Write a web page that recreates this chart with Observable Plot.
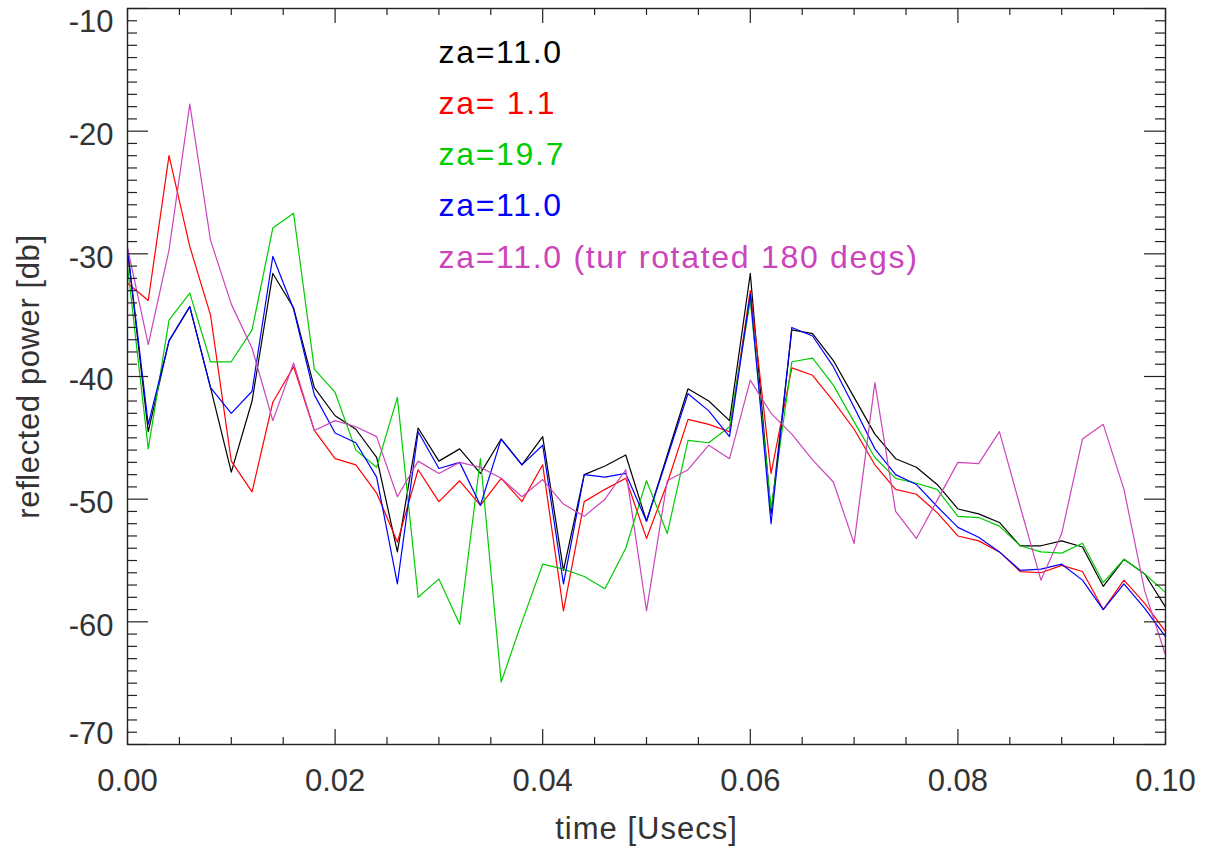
<!DOCTYPE html>
<html>
<head>
<meta charset="utf-8">
<script src="https://cdn.jsdelivr.net/npm/d3@7"></script>
<script src="https://cdn.jsdelivr.net/npm/@observablehq/plot@0.6"></script>
<style>
  html, body { margin: 0; padding: 0; background: #fff; }
  #chart svg { display: block; }
</style>
</head>
<body>
<div id="chart"></div>
<script>
// time axis (Usecs), one sample every 0.002
const time = [0.000,0.002,0.004,0.006,0.008,0.010,0.012,0.014,0.016,0.018,
  0.020,0.022,0.024,0.026,0.028,0.030,0.032,0.034,0.036,0.038,
  0.040,0.042,0.044,0.046,0.048,0.050,0.052,0.054,0.056,0.058,
  0.060,0.062,0.064,0.066,0.068,0.070,0.072,0.074,0.076,0.078,
  0.080,0.082,0.084,0.086,0.088,0.090,0.092,0.094,0.096,0.098,0.100];

const za110 = [-29.7,-44.5,-37.1,-34.3,-40.9,-47.8,-42.0,-31.6,-34.4,-40.9,
  -43.2,-44.3,-46.6,-54.3,-44.2,-46.9,-45.9,-47.9,-45.1,-47.2,
  -44.9,-55.8,-48.0,-47.3,-46.4,-51.8,-46.4,-41.0,-42.0,-43.6,
  -31.6,-51.2,-36.2,-36.5,-38.7,-41.7,-44.7,-46.7,-47.4,-48.8,
  -50.8,-51.2,-51.9,-53.8,-53.8,-53.4,-53.9,-57.1,-54.9,-56.1,-58.8];

const za011 = [-32.4,-33.8,-22.0,-29.4,-35.0,-46.9,-49.4,-42.1,-39.2,-44.4,
  -46.7,-47.2,-49.5,-53.5,-47.6,-50.2,-48.5,-50.5,-48.3,-50.2,
  -47.2,-59.1,-50.2,-49.2,-48.3,-53.2,-48.7,-43.5,-43.9,-44.5,
  -33.0,-47.9,-39.3,-39.9,-42.0,-44.3,-47.2,-49.2,-49.6,-51.1,
  -53.0,-53.4,-54.3,-55.9,-56.0,-55.4,-55.9,-59.0,-56.6,-58.5,-60.8];

const za197 = [-31.0,-45.9,-35.4,-33.2,-38.8,-38.8,-36.2,-27.9,-26.7,-39.4,
  -41.3,-46.0,-47.4,-41.7,-58.0,-56.5,-60.2,-46.7,-64.9,-60.0,
  -55.3,-55.7,-56.3,-57.3,-54.0,-48.5,-52.8,-45.2,-45.4,-44.1,
  -33.8,-50.8,-38.8,-38.5,-40.7,-43.7,-46.6,-48.3,-48.7,-49.2,
  -51.4,-51.5,-52.2,-53.8,-54.3,-54.4,-53.6,-56.8,-54.9,-56.1,-57.6];

const za110b = [-29.6,-43.9,-37.1,-34.3,-40.9,-43.0,-41.2,-30.2,-34.5,-41.5,
  -44.6,-45.4,-48.2,-56.9,-44.5,-47.5,-47.0,-50.5,-45.1,-47.2,
  -45.6,-56.9,-48.0,-48.2,-47.9,-51.8,-46.6,-41.4,-42.8,-44.9,
  -33.3,-52.0,-36.0,-36.7,-39.2,-42.5,-45.9,-48.0,-48.8,-50.6,
  -52.3,-53.1,-54.3,-55.8,-55.7,-55.3,-56.6,-59.0,-56.9,-58.9,-61.2];

const za110rot = [-29.5,-37.4,-29.7,-17.8,-28.9,-34.1,-37.7,-43.6,-38.9,-44.4,
  -43.6,-44.1,-44.9,-49.8,-46.9,-47.9,-47.0,-47.4,-48.3,-49.8,
  -48.4,-50.4,-51.4,-50.0,-47.6,-59.1,-48.5,-47.6,-45.6,-46.7,
  -40.3,-43.0,-44.7,-46.8,-48.6,-53.6,-40.5,-51.0,-53.2,-50.1,
  -47.0,-47.1,-44.5,-50.6,-56.6,-52.8,-45.1,-43.9,-49.2,-57.5,-62.7];

const seriesValues = [za110, za011, za197, za110b, za110rot];
const seriesLabels = ["za=11.0", "za= 1.1", "za=19.7", "za=11.0", "za=11.0 (tur rotated 180 degs)"];
const seriesColors = ["#000000", "#ff0000", "#00cc00", "#0000ff", "#cc44bb"];

const xMajor = [0.00, 0.02, 0.04, 0.06, 0.08, 0.10];
const xMinor = [0.005,0.010,0.015,0.025,0.030,0.035,0.045,0.050,0.055,0.065,0.070,0.075,0.085,0.090,0.095];
const yMajor = [-70, -60, -50, -40, -30, -20, -10];
const yMinor = d3.range(-69, -10).filter(v => v % 10 !== 0);

const W = 1212, H = 861;
const mL = 127, mR = 47, mT = 8, mB = 117;
const fw = W - mL - mR, fh = H - mT - mB;
const font = "'Liberation Sans', Arial, Helvetica, sans-serif";
const ink = "#222";

const lineMarks = seriesValues.map((vals, k) =>
  Plot.line(time.map((t, i) => ({t, v: vals[i]})), {x: "t", y: "v", stroke: seriesColors[k], strokeWidth: 1.2})
);

const legendMarks = seriesLabels.map((lab, k) =>
  Plot.text([lab], {text: d => d, frameAnchor: "top-left", textAnchor: "start", lineAnchor: "bottom",
    dx: 311, dy: 54 + k * 51.3, fill: seriesColors[k], fontSize: 32})
);

const yMid = yMajor.filter(v => v !== -10 && v !== -70);

const chart = Plot.plot({
  width: W, height: H,
  marginLeft: mL, marginRight: mR, marginTop: mT, marginBottom: mB,
  x: {domain: [0, 0.1], axis: null},
  y: {domain: [-70, -10], axis: null},
  style: {fontFamily: font, background: "#fff", color: "#333"},
  marks: [
    ...lineMarks,
    Plot.frame({stroke: ink, strokeWidth: 1.4}),
    // y ticks, left and right, inward
    Plot.tickY(yMajor, {y: d => d, insetRight: fw - 21, stroke: ink, strokeWidth: 1.2}),
    Plot.tickY(yMinor, {y: d => d, insetRight: fw - 10, stroke: ink, strokeWidth: 1.2}),
    Plot.tickY(yMajor, {y: d => d, insetLeft: fw - 21, stroke: ink, strokeWidth: 1.2}),
    Plot.tickY(yMinor, {y: d => d, insetLeft: fw - 10, stroke: ink, strokeWidth: 1.2}),
    // x ticks, bottom and top, inward
    Plot.tickX(xMajor, {x: d => d, insetTop: fh - 15, stroke: ink, strokeWidth: 1.2}),
    Plot.tickX(xMinor, {x: d => d, insetTop: fh - 7, stroke: ink, strokeWidth: 1.2}),
    Plot.tickX(xMajor, {x: d => d, insetBottom: fh - 15, stroke: ink, strokeWidth: 1.2}),
    Plot.tickX(xMinor, {x: d => d, insetBottom: fh - 7, stroke: ink, strokeWidth: 1.2}),
    // y tick labels
    Plot.text(yMid, {y: d => d, text: d => String(d), frameAnchor: "left", textAnchor: "end", dx: -14, dy: 4, fontSize: 31, fill: "#333"}),
    Plot.text([-10], {y: d => d, text: d => String(d), frameAnchor: "left", textAnchor: "end", dx: -14, dy: 14, fontSize: 31, fill: "#333"}),
    Plot.text([-70], {y: d => d, text: d => String(d), frameAnchor: "left", textAnchor: "end", dx: -14, dy: -10, fontSize: 31, fill: "#333"}),
    // x tick labels
    Plot.text(xMajor, {x: d => d, text: d => d.toFixed(2), frameAnchor: "bottom", dy: 46, fontSize: 31, fill: "#333"}),
    // axis titles
    Plot.text(["time [Usecs]"], {text: d => d, frameAnchor: "bottom", dy: 94, fontSize: 31, fill: "#333"}),
    Plot.text(["reflected power [db]"], {text: d => d, frameAnchor: "left", textAnchor: "middle", rotate: -90, dx: -98, fontSize: 31, fill: "#333"}),
    ...legendMarks
  ]
});

// letter spacing to match the wider original lettering
d3.select(chart).selectAll("text").each(function() {
  const t = this.textContent;
  if (t.startsWith("za=")) this.style.letterSpacing = "1.7px";
  else if (t === "time [Usecs]") this.style.letterSpacing = "1px";
  else if (t === "reflected power [db]") this.style.letterSpacing = "0.6px";
});

document.getElementById("chart").append(chart);
</script>
</body>
</html>
